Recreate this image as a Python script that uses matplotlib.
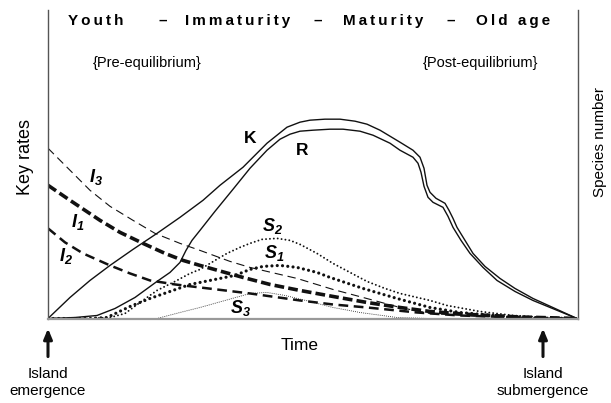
import matplotlib
matplotlib.use("Agg")
import matplotlib.pyplot as plt

plt.rcParams['font.family'] = ['Liberation Sans', 'DejaVu Sans']
plt.rcParams['lines.scale_dashes'] = False
plt.rcParams['mathtext.fontset'] = 'custom'
plt.rcParams['mathtext.it'] = 'Liberation Sans:italic:bold'
plt.rcParams['mathtext.rm'] = 'Liberation Sans:italic:bold'
plt.rcParams['mathtext.bf'] = 'Liberation Sans:italic:bold'

# ---- data (time in arbitrary units 0..530, rate/species in arbitrary units) ----
k_t = [0, 22, 42, 62, 85, 109, 132, 155, 172, 195, 219, 239, 252, 262, 277, 292, 307, 319, 332,
       352, 365, 372, 376, 379, 382, 388, 397, 401, 405, 409, 417, 425, 437, 452, 467, 485, 507, 529]
k_v = [0, 21, 38, 53, 69, 85, 101, 118, 133, 151, 175, 191, 196, 198, 199, 199, 197, 194, 188,
       176, 168, 161, 150, 133, 126, 120, 115, 108, 100, 91, 78, 65, 52, 40, 30, 20, 10, 0]

r_t = [0, 27, 49, 67, 87, 109, 122, 132, 138, 144, 152, 167, 185, 202, 219, 232, 242, 252, 265,
       282, 295, 312, 325, 342, 352, 365, 370, 373, 376, 380, 385, 395, 400, 405, 413, 422, 435,
       449, 467, 485, 507, 529]
r_v = [0, 1, 3, 10, 21, 37, 46, 56, 68, 78, 88, 107, 129, 150, 168, 179, 184, 187, 188,
       189, 189, 187, 183, 175, 168, 161, 155, 146, 132, 121, 116, 111, 102, 91, 78, 65, 51,
       38, 27, 18, 9, 0]

i1_t = [0, 22, 52, 72, 95, 117, 135, 152, 195, 222, 252, 285, 319, 352, 382, 422, 472, 529]
i1_v = [133, 118, 98, 86, 75, 65, 58, 53, 41, 34, 28, 22, 16, 11, 7, 4, 1.5, 0]

i2_t = [0, 17, 35, 62, 82, 102, 127, 152, 202, 252, 285, 319, 369, 412, 472, 529]
i2_v = [90, 76, 65, 53, 45, 38, 34, 31, 25, 18, 14, 11, 6, 3, 1, 0]

i3_t = [0, 22, 42, 62, 85, 107, 132, 152, 182, 202, 249, 285, 315, 352, 382, 432, 482, 529]
i3_v = [170, 148, 128, 112, 98, 85, 75, 68, 57, 51, 40, 29, 21, 11, 5, 2, 0.5, 0]

s1_t = [0, 42, 59, 82, 102, 122, 142, 167, 187, 202, 215, 232, 249, 269, 282, 315, 349, 382,
        412, 452, 492, 529]
s1_v = [0, 0, 1, 12, 20, 27, 34, 39, 43, 49, 52, 53, 51, 46, 41, 30, 20, 11, 6, 2.5, 0.5, 0]

s2_t = [0, 42, 62, 77, 92, 109, 127, 142, 152, 167, 179, 192, 202, 214, 229, 242, 252, 269,
        285, 302, 319, 337, 352, 382, 399, 432, 465, 497, 529]
s2_v = [0, 0, 1, 5, 16, 28, 37, 45, 49, 58, 65, 71, 75, 79, 80, 78, 74, 65, 55, 46, 37, 30,
        25, 18, 13, 7, 3, 1, 0]

s3_t = [0, 109, 132, 152, 177, 202, 219, 237, 262, 285, 312, 349, 382, 529]
s3_v = [0, 0, 6, 11, 18, 25, 26, 23, 17, 11, 6, 1, 0, 0]

stages = ["Youth", "–", "Immaturity", "–", "Maturity", "–", "Old age"]
stage_pos = [48, 115, 190, 270, 335, 403, 465]

# ---- figure ----
W, H = 611, 403
fig = plt.figure(figsize=(W / 100, H / 100), dpi=100)
ax = fig.add_axes([48 / W, (H - 318.5) / H, 530 / W, 308.5 / H])
ax.set_xlim(0, 530)
ax.set_ylim(0, 308)
ax.set_xticks([])
ax.set_yticks([])
ax.spines['top'].set_visible(False)
for s in ('left', 'right'):
    ax.spines[s].set_color('#555555')
    ax.spines[s].set_linewidth(1.0)
ax.spines['bottom'].set_color('#999999')
ax.spines['bottom'].set_linewidth(1.6)

c = '#111111'
ax.plot(k_t, k_v, color=c, lw=1.0, solid_joinstyle='round')
ax.plot(r_t, r_v, color=c, lw=1.0, solid_joinstyle='round')
ax.plot(i3_t, i3_v, color=c, lw=0.8, linestyle=(0, (6, 3.5)))
ax.plot(i1_t, i1_v, color=c, lw=2.6, linestyle=(0, (7, 3)))
ax.plot(i2_t, i2_v, color=c, lw=1.8, linestyle=(0, (7, 4)))
ax.plot(s2_t, s2_v, color=c, lw=1.4, linestyle=(0, (0.01, 2.8)), dash_capstyle='round')
ax.plot(s1_t, s1_v, color=c, lw=2.3, linestyle=(0, (0.01, 3.8)), dash_capstyle='round')
ax.plot(s3_t, s3_v, color=c, lw=0.6, linestyle=(0, (0.6, 0.9)))

# stage title (letter-spaced with thin spaces)
thin = "\u2009"
for word, xp in zip(stages, stage_pos):
    txt = thin.join(list(word)) if word != "–" else word
    ax.text(xp, 297, txt, ha='center', va='center', fontsize=11, fontweight='bold')

ax.text(99, 255, "{Pre-equilibrium}", ha='center', va='center', fontsize=10.5)
ax.text(433, 255, "{Post-equilibrium}", ha='center', va='center', fontsize=10.5)

# curve labels
ax.text(202, 180, "K", ha='center', va='center', fontsize=12.5, fontweight='bold')
ax.text(254, 168, "R", ha='center', va='center', fontsize=12.5, fontweight='bold')
for x, y, s in [(224, 92, r'$S_2$'), (226, 65, r'$S_1$'), (192, 10, r'$S_3$'),
                (48, 141, r'$I_3$'), (30, 96, r'$I_1$'), (18, 62, r'$I_2$')]:
    ax.text(x, y, s, ha='center', va='center', fontsize=13)

# axis labels
fig.text(26 / W, 1 - 157 / H, "Key rates", rotation=90, ha='center', va='center', fontsize=13)
fig.text(600 / W, 1 - 142 / H, "Species number", rotation=90, ha='center', va='center', fontsize=11)
fig.text(300 / W, 1 - 345 / H, "Time", ha='center', va='center', fontsize=12.5)

# island events
for xp, lab in [(0, "Island\nemergence"), (495, "Island\nsubmergence")]:
    ax.annotate("", xy=(xp, -10), xytext=(xp, -38), xycoords='data', textcoords='data',
                annotation_clip=False,
                arrowprops=dict(arrowstyle='-|>,head_length=0.6,head_width=0.25',
                                color='#111111', lw=2.2, shrinkA=0, shrinkB=0))
    ax.text(xp, -64, lab, ha='center', va='center', fontsize=11, linespacing=1.25,
            clip_on=False)

fig.savefig("out.png", dpi=100)
